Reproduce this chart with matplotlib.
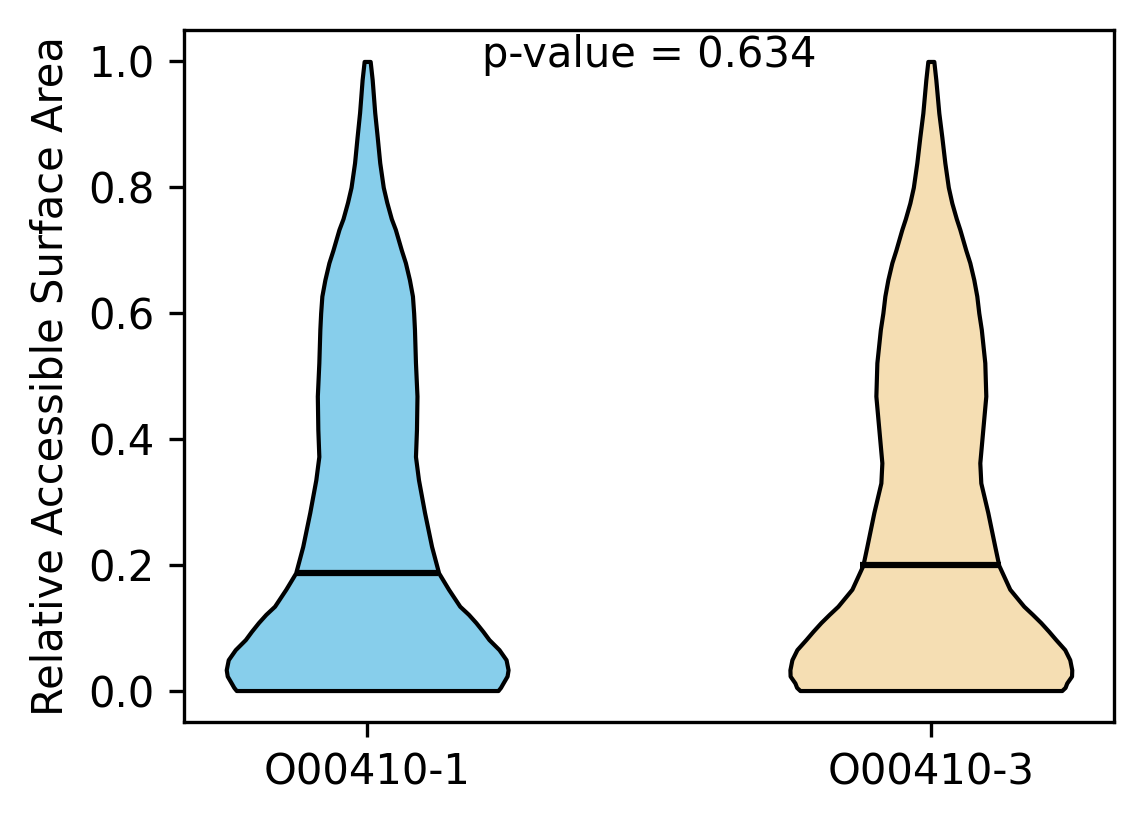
import numpy as np
import matplotlib
matplotlib.use("Agg")
import matplotlib.pyplot as plt

# group names and colours
groups = ["O00410-1", "O00410-3"]
colors = ["skyblue", "wheat"]
p_value = 0.634

# violin outlines: RSA value -> relative density (half width)
rsa_1 = [0.000, 0.005, 0.012, 0.023, 0.033, 0.049, 0.065, 0.081, 0.094, 0.108,
         0.121, 0.134, 0.161, 0.187, 0.229, 0.283, 0.335, 0.372, 0.415, 0.468,
         0.521, 0.574, 0.600, 0.627, 0.653, 0.680, 0.700, 0.733, 0.750, 0.776,
         0.800, 0.839, 0.880, 0.919, 0.971, 1.000]
dens_1 = [130, 132.5, 135, 139, 140, 138, 131, 121, 115, 108,
          100.7, 92, 80.8, 71, 64, 57, 51, 48, 49, 49.5,
          48, 47, 46.2, 45, 42, 38, 34, 28, 24, 19.5,
          16, 12.5, 10, 7.5, 5, 3]

rsa_3 = [0.000, 0.005, 0.012, 0.023, 0.033, 0.049, 0.065, 0.081, 0.094, 0.108,
         0.121, 0.134, 0.161, 0.199, 0.229, 0.283, 0.330, 0.362, 0.415, 0.468,
         0.521, 0.574, 0.600, 0.627, 0.653, 0.680, 0.700, 0.733, 0.750, 0.775,
         0.800, 0.839, 0.880, 0.918, 0.971, 1.000]
dens_3 = [131, 134.3, 136, 140.8, 141, 139, 134, 125, 118, 110,
          101.7, 93, 79, 68, 64, 57, 50, 49, 52, 55,
          54, 50.5, 48, 46, 43, 39, 35, 29, 25.5, 21,
          17.5, 14, 11, 8, 5, 3]

medians = [0.187, 0.199]


def make_stats(coords, vals, median):
    coords = np.asarray(coords)
    return {"coords": coords, "vals": np.asarray(vals, dtype=float),
            "mean": median, "median": median,
            "min": coords.min(), "max": coords.max()}


stats = [make_stats(rsa_1, dens_1, medians[0]),
         make_stats(rsa_3, dens_3, medians[1])]

fig = plt.figure(figsize=(1144 / 300, 824 / 300), dpi=300)
ax = fig.add_subplot(111)
fig.subplots_adjust(left=0.1608, right=0.9738, top=0.9636, bottom=0.1238)

parts = ax.violin(stats, positions=[1, 2], showextrema=False, showmedians=True)
for body, col in zip(parts["bodies"], colors):
    body.set_facecolor(col)
    body.set_edgecolor("black")
    body.set_linewidth(1.0)
    body.set_alpha(1)
parts["cmedians"].set_color("black")
parts["cmedians"].set_linewidth(1.5)

ax.set_xticks([1, 2])
ax.set_xticklabels(groups)
ax.set_ylabel("Relative Accessible Surface Area")
ax.text(1.5, 1.01, "p-value = %.3f" % p_value, ha="center", va="center")

plt.savefig("out.png", dpi=300)
